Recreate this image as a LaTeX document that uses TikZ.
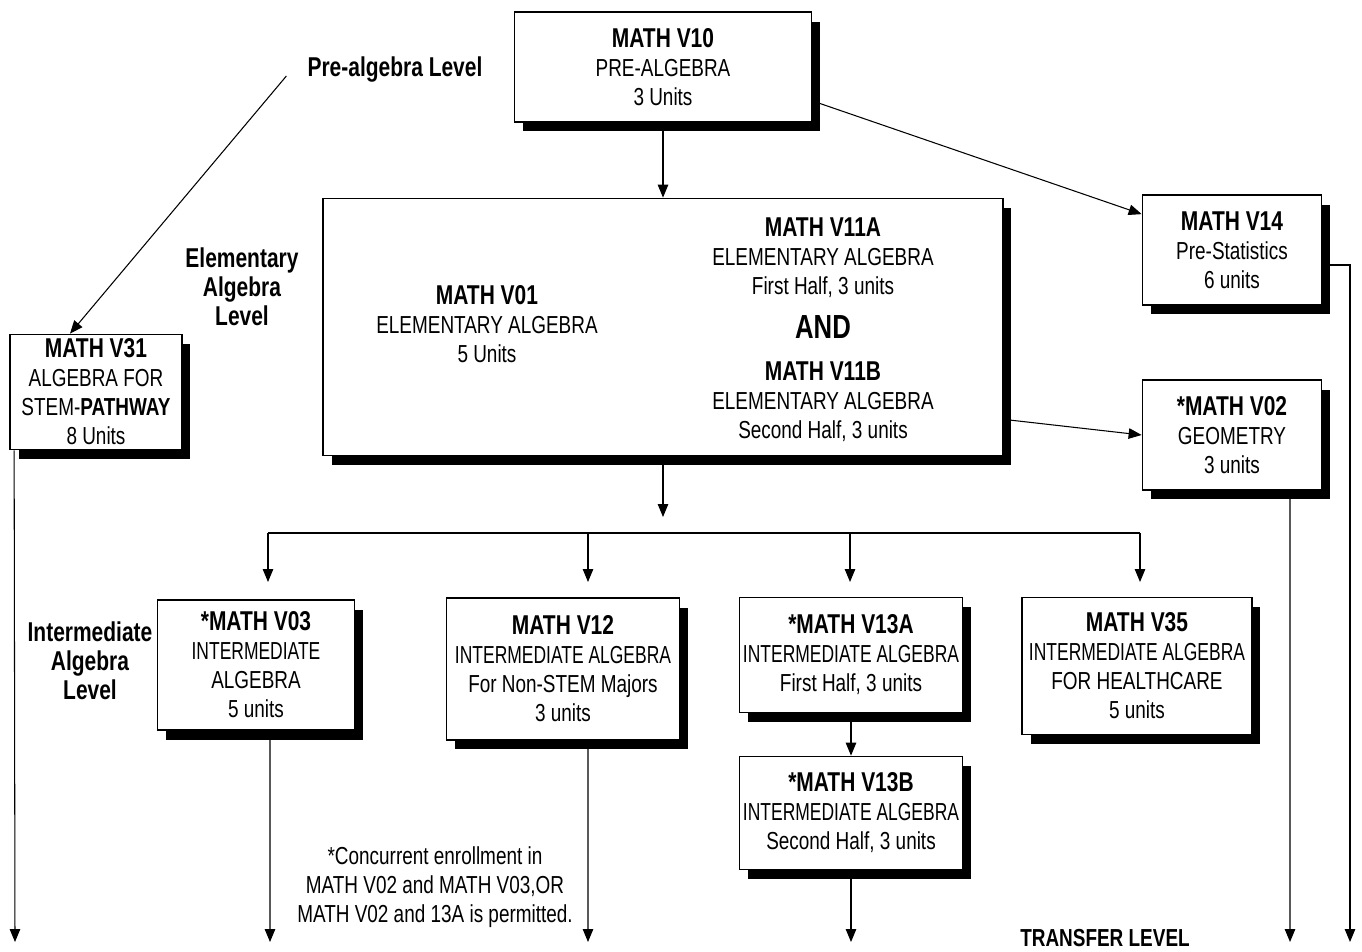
\documentclass[tikz,border=0pt]{standalone}
\usepackage{fontspec}
\setmainfont{Liberation Sans}[FakeStretch=0.77]
\newfontfamily\slim{Liberation Sans}[FakeStretch=0.71]
\usetikzlibrary{arrows.meta,shadows}

\newcommand\ttl[1]{{\fontsize{15.5}{16.5}\selectfont\bfseries #1}}

\tikzset{
  course/.style={draw, line width=1pt, fill=white, align=center, inner sep=0pt,
    drop shadow={shadow xshift=0.17cm, shadow yshift=-0.19cm, fill=black, opacity=1}},
  level/.style={align=center, font=\fontsize{15.5}{16.5}\selectfont\bfseries},
  arr/.style={-{Triangle[length=0.26cm,width=0.21cm]}, line width=0.6pt},
}

\begin{document}
\begin{tikzpicture}[x=0.02cm, y=-0.02cm, font=\fontsize{14}{16.5}\selectfont]
    \useasboundingbox (0,0) rectangle (1362,951);
    % levels
    \node[level] (pre) at (395,70) {Pre-algebra Level};
    \node[level] (elemlvl) at (242,287) {Elementary\\Algebra\\Level};
    \node[level] (intlvl) at (90,661) {Intermediate\\Algebra\\Level};
    \node[level, font=\fontsize{14}{15}\selectfont\bfseries] (transfer) at (1105,938) {TRANSFER LEVEL};
    % courses
    \node[course, minimum width=5.94cm, minimum height=2.2cm] (v10) at (663,67)
        {\ttl{MATH V10}\\PRE-ALGEBRA\\3 Units};
    \node[course, minimum width=13.6cm, minimum height=5.14cm] (elem) at (663,327) {};
    \node[align=center] (v01) at (487,324) {\ttl{MATH V01}\\ELEMENTARY ALGEBRA\\5 Units};
    \node[align=center] (v11a) at (823,258) {\ttl{MATH V11A}\\ELEMENTARY ALGEBRA\\First Half, 3 units};
    \node[font=\fontsize{19}{20}\selectfont\bfseries] (and) at (823,327) {AND};
    \node[align=center] (v11b) at (823,402) {\ttl{MATH V11B}\\ELEMENTARY ALGEBRA\\Second Half, 3 units};
    \node[course, minimum width=3.44cm, minimum height=2.3cm] (v31) at (96,392)
        {\ttl{MATH V31}\\ALGEBRA FOR\\STEM-\textbf{PATHWAY}\\8 Units};
    \node[course, minimum width=3.58cm, minimum height=2.2cm] (v14) at (1232,250)
        {\ttl{MATH V14}\\Pre-Statistics\\6 units};
    \node[course, minimum width=3.58cm, minimum height=2.2cm] (v02) at (1232,435)
        {\ttl{*MATH V02}\\GEOMETRY\\3 units};
    \node[course, minimum width=3.94cm, minimum height=2.6cm] (v03) at (256,665)
        {\ttl{*MATH V03}\\{\slim INTERMEDIATE}\\ALGEBRA\\5 units};
    \node[course, minimum width=4.66cm, minimum height=2.84cm] (v12) at (563,669)
        {\ttl{MATH V12}\\{\slim INTERMEDIATE ALGEBRA}\\For Non-STEM Majors\\3 units};
    \node[course, minimum width=4.46cm, minimum height=2.3cm] (v13a) at (851,655)
        {\ttl{*MATH V13A}\\{\slim INTERMEDIATE ALGEBRA}\\First Half, 3 units};
    \node[course, minimum width=4.46cm, minimum height=2.26cm] (v13b) at (851,813)
        {\ttl{*MATH V13B}\\{\slim INTERMEDIATE ALGEBRA}\\Second Half, 3 units};
    \node[course, minimum width=4.6cm, minimum height=2.74cm] (v35) at (1137,666)
        {\ttl{MATH V35}\\{\slim INTERMEDIATE ALGEBRA}\\FOR HEALTHCARE\\5 units};
    \node[align=center] (note) at (435,887)
        {*Concurrent enrollment in\\MATH V02 and MATH V03,OR\\MATH V02 and 13A is permitted.};
    % loose ends
    \coordinate (split) at (663,517);
    \coordinate (out31) at (15,942);
    \coordinate (out03) at (270,942);
    \coordinate (out12) at (588,942);
    \coordinate (out13) at (851,942);
    \coordinate (out02) at (1290,942);
    \coordinate (out14) at (1350,942);
    % connectors
    \draw[arr] ([shift={(-0.3cm,-0.12cm)}]pre.west) -- ([xshift=-0.52cm]v31.north);
    \draw[arr] (v10) -- (elem);
    \draw[arr] ([yshift=0.44cm]v10.south east) -- ([yshift=-0.4cm]v14.north west);
    \draw[arr] ([yshift=0.74cm]elem.south east) -- (v02.west);
    \draw[arr] (elem) -- (split);
    \draw[line width=1pt] (268,533) -- (1140,533);
    \foreach \x in {268, 588, 850, 1140} {
        \draw[arr] (\x,533) -- (\x,582);
    }
    \draw[arr] (v13a) -- (v13b);
    \draw[arr] ([xshift=0.1cm]v31.south west) -- (out31);
    \draw[arr] ([xshift=0.28cm]v03.south) -- (out03);
    \draw[arr] ([xshift=0.5cm]v12.south) -- (out12);
    \draw[arr] (v13b) -- (out13);
    \draw[arr] ([xshift=1.16cm]v02.south) -- (out02);
    \draw[arr] ([yshift=-0.3cm]v14.east) -| (out14);
\end{tikzpicture}
\end{document}
